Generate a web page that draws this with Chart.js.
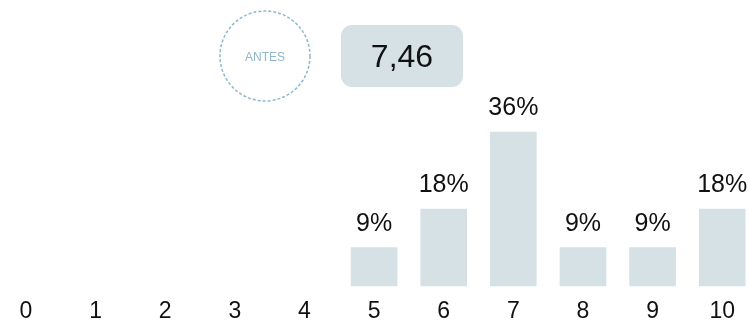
<!DOCTYPE html>
<html>
<head>
<meta charset="utf-8">
<script src="https://cdn.jsdelivr.net/npm/chart.js@4/dist/chart.umd.min.js"></script>
<style>
  html, body { margin: 0; padding: 0; background: #fff; }
  #wrap { width: 749px; height: 324px; position: relative; }
</style>
</head>
<body>
<div id="wrap"><canvas id="notas"></canvas></div>
<script>
const notas = ['0', '1', '2', '3', '4', '5', '6', '7', '8', '9', '10'];
const porcentagens = [0, 0, 0, 0, 0, 9, 18, 36, 9, 9, 18];
const media = '7,46';
const rotulo = 'ANTES';

const fonte = "'Liberation Sans', Arial, Helvetica, sans-serif";
const corBarra = '#d6e1e6';
const corTexto = '#111';

// circulo tracejado "ANTES" e caixa com a media
const cabecalho = {
  id: 'cabecalho',
  beforeDraw(chart) {
    const ctx = chart.ctx;
    ctx.save();
    ctx.beginPath();
    ctx.setLineDash([3, 2]);
    ctx.lineWidth = 1.5;
    ctx.strokeStyle = '#8fb7ca';
    ctx.arc(265, 56, 45, 0, Math.PI * 2);
    ctx.stroke();
    ctx.setLineDash([]);
    ctx.fillStyle = '#8fb7ca';
    ctx.font = '12px ' + fonte;
    ctx.textAlign = 'center';
    ctx.textBaseline = 'alphabetic';
    ctx.fillText(rotulo, 265, 61);

    ctx.fillStyle = corBarra;
    ctx.beginPath();
    ctx.roundRect(341, 25, 122, 62, 11);
    ctx.fill();
    ctx.fillStyle = corTexto;
    ctx.font = '32px ' + fonte;
    ctx.fillText(media, 402, 67);
    ctx.restore();
  }
};

// porcentagem em cima de cada barra
const rotulos = {
  id: 'rotulos',
  afterDatasetsDraw(chart) {
    const ctx = chart.ctx;
    const meta = chart.getDatasetMeta(0);
    ctx.save();
    ctx.fillStyle = corTexto;
    ctx.font = '25px ' + fonte;
    ctx.textAlign = 'center';
    ctx.textBaseline = 'alphabetic';
    meta.data.forEach((bar, i) => {
      const v = porcentagens[i];
      if (!v) return;
      ctx.fillText(v + '%', bar.x, bar.y - 17);
    });
    ctx.restore();
  }
};

new Chart(document.getElementById('notas'), {
  type: 'bar',
  data: {
    labels: notas,
    datasets: [{
      // notas sem resposta ficam sem barra
      data: porcentagens.map(v => v || null),
      backgroundColor: corBarra,
      borderWidth: 0,
      barThickness: 46,
      clip: false
    }]
  },
  options: {
    responsive: true,
    maintainAspectRatio: false,
    animation: false,
    layout: { padding: { top: 115, left: 26, right: 20, bottom: -13 } },
    plugins: {
      legend: { display: false },
      tooltip: { enabled: false }
    },
    scales: {
      x: {
        offset: false,
        grid: { display: false, drawTicks: false },
        border: { display: false },
        ticks: {
          color: corTexto,
          padding: 14,
          maxRotation: 0,
          font: { family: fonte, size: 23, lineHeight: 1 }
        }
      },
      y: {
        display: false,
        min: 0,
        max: 40
      }
    }
  },
  plugins: [cabecalho, rotulos]
});
</script>
</body>
</html>
